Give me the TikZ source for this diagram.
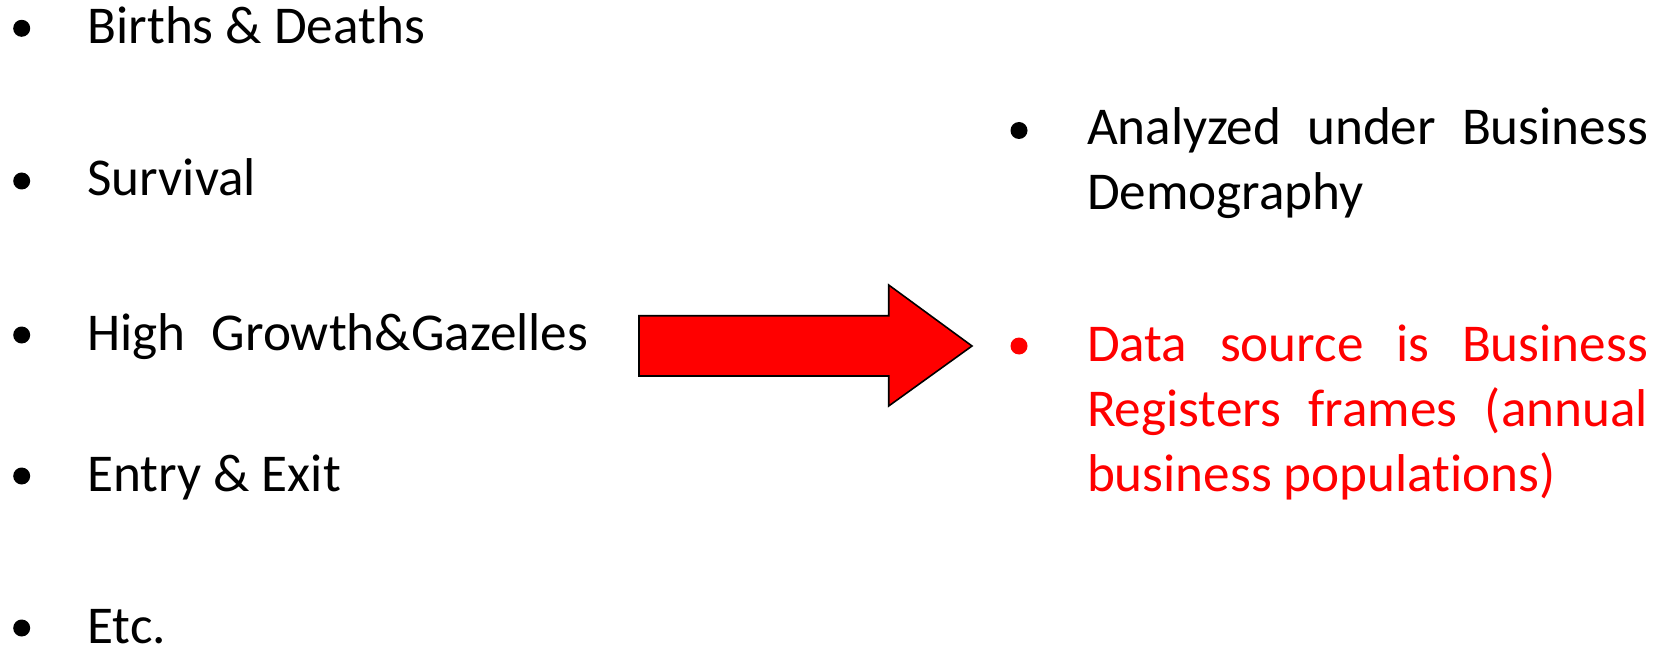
\documentclass[tikz,border=0pt]{standalone}
\usepackage{fontspec}
\setmainfont[Ligatures={NoCommon,NoRare}]{Carlito}
\begin{document}
\begin{tikzpicture}[x=1pt,y=-1pt,
  item/.style={anchor=base west, inner sep=0pt, outer sep=0pt,
    font=\fontsize{53.2}{65}\selectfont},
  para/.style={item, text width=561pt, align=justify,
    execute at begin node={\tolerance=10000\hyphenpenalty=10000\pretolerance=-1}},
  dot/.style={circle, fill=#1, draw=none, inner sep=0pt, minimum size=17pt},
  dot/.default=black,
  bigarrow/.style={fill=red, draw=black, line width=1.6pt, line join=miter}]
\useasboundingbox (0,0) rectangle (1662,647);

% left column
\node[dot] (b1) at (21.7,28.3) {};
\node[item] (t1) at (87.5,43.3) {Births \& Deaths};
\node[dot] (b2) at (21.7,181) {};
\node[item] (t2) at (87.5,196) {Survival};
\node[dot] (b3) at (21.7,335) {};
\node[item] (t3) at (87.5,350) {High\hspace{14pt} Growth\&Gazelles};
\node[dot] (b4) at (21.7,476) {};
\node[item] (t4) at (87.5,491) {Entry \& Exit};
\node[dot] (b5) at (21.7,628) {};
\node[item] (t5) at (87.5,643) {Etc.};

% arrow
\draw[bigarrow] (639,315.7) -- (888.7,315.7) -- (888.7,285) -- (972,346)
  -- (888.7,406) -- (888.7,376) -- (639,376) -- cycle;

% right column
\node[dot] (rb1) at (1019,130.5) {};
\node[para] (r1) at (1087,145) {Analyzed under Business\linebreak Demography};
\node[dot=red] (rb2) at (1019,346) {};
\node[para, text=red] (r2) at (1087,361.7) {Data source is Business\linebreak Registers frames (annual\linebreak business populations)};
\end{tikzpicture}
\end{document}
